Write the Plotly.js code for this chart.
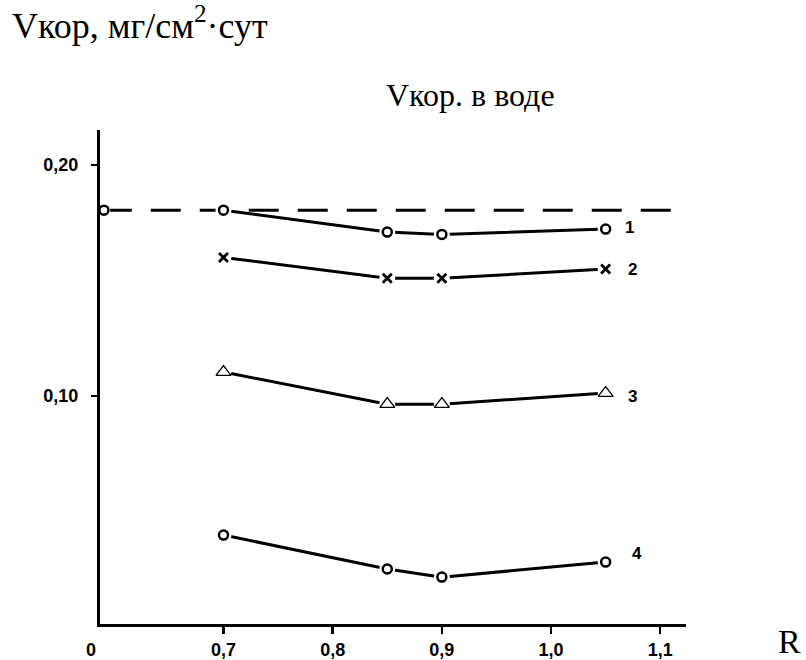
<!DOCTYPE html>
<html><head><meta charset="utf-8">
<script src="https://cdn.plot.ly/plotly-3.0.1.min.js"></script>
<style>body{margin:0;background:#fff}</style>
</head><body><div id="chart" style="width:806px;height:660px"></div>
<script>
// R values (x) and corrosion rates (y)
const rVals = [0.7, 0.85, 0.9, 1.05];
const series1 = [0.1805, 0.171, 0.170, 0.1723];
const series2 = [0.160, 0.151, 0.151, 0.155];
const series3 = [0.1104, 0.0965, 0.0965, 0.1013];
const series4 = [0.0398, 0.0251, 0.0216, 0.0281];
const waterLevel = 0.1805;           // Vкор. в воде (dashed line)
const waterX = [0.5885, 1.1236];
const seriesLabels = ["1", "2", "3", "4"];
const labelY = [0.1732, 0.155, 0.100, 0.032];
const labelX = [1.0723, 1.075, 1.075, 1.0787];
const xTickVals = [0.7, 0.8, 0.9, 1.0, 1.1];
const xTickText = ["0,7", "0,8", "0,9", "1,0", "1,1"];
const yTickVals = [0.1, 0.2];
const yTickText = ["0,10", "0,20"];

const seriesList = [
  {y: series1, symbol: 'circle-open', size: 9, lw: 2.5},
  {y: series2, symbol: 'x-thin-open', size: 9, lw: 2.8},
  {y: series3, symbol: 'triangle-up-open', size: 13, lw: 1.3},
  {y: series4, symbol: 'circle-open', size: 9, lw: 2.5}
];

const traces = [];
// connecting lines
traces.push({x: waterX, y: [waterLevel, waterLevel], type: 'scatter', mode: 'lines',
  line: {color: '#000', width: 3, dash: '30px,19px'}, showlegend: false, cliponaxis: false});
seriesList.forEach(s => traces.push({x: rVals, y: s.y, type: 'scatter', mode: 'lines',
  line: {color: '#000', width: 3}, showlegend: false}));
// white knock-out behind each symbol (gap between line and symbol)
traces.push({x: [waterX[0]], y: [waterLevel], type: 'scatter', mode: 'markers',
  marker: {color: '#fff', size: 17, line: {width: 0}}, cliponaxis: false, showlegend: false});
seriesList.forEach(s => traces.push({x: rVals, y: s.y, type: 'scatter', mode: 'markers',
  marker: {color: '#fff', size: 16, line: {width: 0}}, cliponaxis: false, showlegend: false}));
// symbols
traces.push({x: [waterX[0] + 0.002], y: [waterLevel], type: 'scatter', mode: 'markers',
  marker: {symbol: 'circle-open', size: 9, color: '#000', line: {width: 2.5, color: '#000'}},
  cliponaxis: false, showlegend: false});
seriesList.forEach(s => traces.push({x: rVals, y: s.y, type: 'scatter', mode: 'markers',
  marker: {symbol: s.symbol, size: s.size, color: '#000', line: {width: s.lw, color: '#000'}},
  cliponaxis: false, showlegend: false}));

const annotations = seriesLabels.map((t, i) => ({
  x: labelX[i], y: labelY[i], xref: 'x', yref: 'y', text: '<b>' + t + '</b>',
  showarrow: false, font: {family: 'Liberation Sans, Arial', size: 17, color: '#000'}
}));
annotations.push({x: (91 - 100) / 586, y: (624 - 650) / 494, xref: 'paper', yref: 'paper', text: '<b>0</b>',
  showarrow: false, xanchor: 'center', yanchor: 'middle', borderpad: 0,
  font: {family: 'Liberation Sans, Arial', size: 18, color: '#000'}});
annotations.push({x: (470 - 100) / 586, y: (624 - 95) / 494, xref: 'paper', yref: 'paper', text: 'Vкор. в воде',
  showarrow: false, xanchor: 'center', yanchor: 'middle',
  font: {family: 'Liberation Serif, Times New Roman', size: 32, color: '#000'}});
annotations.push({x: (789 - 100) / 586, y: (624 - 641) / 494, xref: 'paper', yref: 'paper', text: 'R',
  showarrow: false, xanchor: 'center', yanchor: 'middle', borderpad: 0,
  font: {family: 'Liberation Serif, Times New Roman', size: 34, color: '#000'}});

const layout = {
  width: 806, height: 660,
  margin: {l: 100, r: 120, t: 130, b: 36},
  paper_bgcolor: '#fff', plot_bgcolor: '#fff',
  title: {text: 'Vкор, мг/см<sup>2</sup>·сут', xref: 'container', yref: 'container',
    x: 12/806, xanchor: 'left', y: 1 - 25/660, yanchor: 'middle',
    font: {family: 'Liberation Serif, Times New Roman', size: 36, color: '#000'}},
  xaxis: {range: [0.5869, 1.1236], showgrid: false, zeroline: false,
    showline: true, linecolor: '#000', linewidth: 3,
    tickmode: 'array', tickvals: xTickVals, ticktext: xTickText.map(t => '<b>' + t + '</b>'),
    ticks: 'outside', ticklen: 7, tickwidth: 2.5, tickcolor: '#000', ticklabelstandoff: 0,
    tickfont: {family: 'Liberation Sans, Arial', size: 18, color: '#000'}},
  yaxis: {range: [0.0013, 0.2152], showgrid: false, zeroline: false,
    showline: true, linecolor: '#000', linewidth: 3,
    tickmode: 'array', tickvals: yTickVals, ticktext: yTickText.map(t => '<b>' + t + '</b>'),
    ticks: 'outside', ticklen: 6, tickwidth: 2.5, tickcolor: '#000', ticklabelstandoff: 9,
    tickfont: {family: 'Liberation Sans, Arial', size: 18, color: '#000'}},
  annotations: annotations,
  showlegend: false
};
Plotly.newPlot('chart', traces, layout, {displayModeBar: false, staticPlot: true});
</script></body></html>
